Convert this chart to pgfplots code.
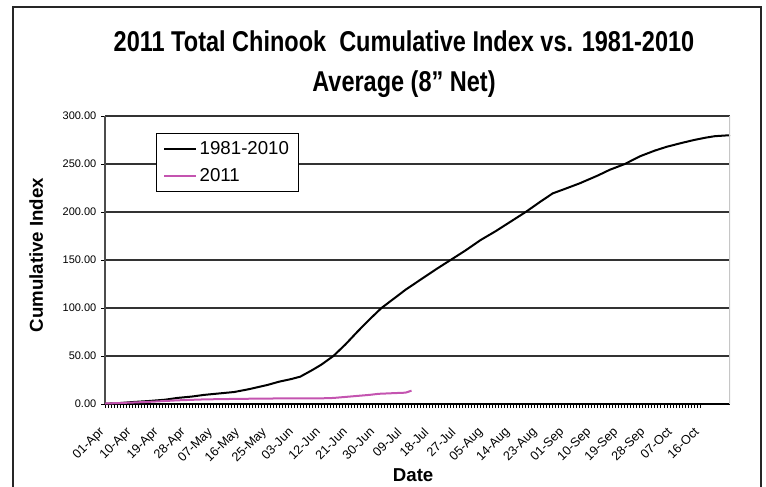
\documentclass[border=0pt]{standalone}
\usepackage{fontspec}
\setmainfont{Liberation Sans}
\usepackage{graphicx}
\usepackage{pgfplots}
\pgfplotsset{compat=1.18}
\definecolor{pinkline}{RGB}{196,84,176}
\pgfplotstableread{
day value
0 0.3
5 1.0
9 2.0
15 3.2
20 4.5
24 6.3
29 7.8
33 9.5
38 11.0
43 12.5
48 15.5
54 19.8
58 23.3
62 26.0
65 28.5
69 35.4
72 41.0
76 50.0
80 62.0
84 75.3
88 88.0
92 100.0
97 111.8
100 119.0
104 127.4
110 140.0
115 150.0
120 160.0
125 170.8
130 180.0
135 190.0
140 200.0
145 211.0
149 219.4
153 224.0
158 229.9
164 238.0
168 244.0
173 250.0
178 258.0
183 264.0
187 268.0
192 272.0
196 275.0
200 277.5
203 279.0
208 280.0
}\avgdata
\pgfplotstableread{
day value
0 0.5
9 1.5
15 2.3
24 3.8
33 4.8
43 5.3
54 5.7
65 5.9
72 5.9
76 6.3
82 7.9
88 9.5
91 10.6
96 11.3
100 11.8
101 12.8
102 13.9
}\curdata
\begin{document}
\begin{tikzpicture}
\useasboundingbox (0pt,0pt) rectangle (574.5pt,364.5pt);
\draw[line width=2pt, black!85] (9.75pt,-2pt) -- (9.75pt,359.25pt) -- (570.75pt,359.25pt) -- (570.75pt,-2pt);
\node[anchor=base, font=\bfseries\fontsize{21.5}{24}\selectfont] at (303pt,325.5pt) {\scalebox{0.82}[1]{2011 Total Chinook\ \ Cumulative Index vs. 1981-2010}};
\node[anchor=base, font=\bfseries\fontsize{21.5}{24}\selectfont] at (303pt,295.5pt) {\scalebox{0.82}[1]{Average (8" Net)}};
\begin{axis}[
  at={(78.75pt,61.5pt)}, anchor=south west,
  scale only axis, width=468.75pt, height=216pt,
  xmin=0, xmax=208, ymin=0, ymax=300,
  axis x line*=bottom, axis y line*=left,
  x axis line style={black, line width=0.9pt, -},
  y axis line style={black!70, line width=0.9pt, -},
  xtick={0,9,...,198},
  xticklabels={01-Apr,10-Apr,19-Apr,28-Apr,07-May,16-May,25-May,03-Jun,12-Jun,21-Jun,30-Jun,09-Jul,18-Jul,27-Jul,05-Aug,14-Aug,23-Aug,01-Sep,10-Sep,19-Sep,28-Sep,07-Oct,16-Oct},
  minor x tick num=8,
  ytick={0,50,...,300},
  yticklabel style={/pgf/number format/fixed, /pgf/number format/fixed zerofill, /pgf/number format/precision=2, /pgf/number format/assume math mode=true},
  tick align=outside, major tick length=3pt, minor tick length=3pt,
  tick style={black, line width=0.6pt},
  ymajorgrids, major grid style={black!80, line width=0.8pt},
  x tick label style={xshift=-5pt, yshift=-12.25pt, rotate=45, anchor=north east, font=\fontsize{9.5}{10}\selectfont, inner sep=1pt},
  y tick label style={font=\fontsize{8.25}{9}\selectfont},
  xlabel={Date}, ylabel={Cumulative Index},
  every axis x label/.style={at={(axis description cs:0.493,-0.2465)}, anchor=center, font=\bfseries\fontsize{14}{16}\selectfont},
  every axis y label/.style={at={(axis description cs:-0.110,0.517)}, rotate=90, anchor=center, font=\bfseries\fontsize{14}{16}\selectfont},
  legend style={at={(axis description cs:0.0816,0.941)}, anchor=north west, draw=black, line width=0.6pt, fill=white, font=\fontsize{14}{16}\selectfont, row sep=5pt, inner xsep=5pt, inner ysep=4pt},
  legend cell align=left,
  legend image code/.code={\draw[#1] (0pt,0pt) -- (24pt,0pt);},
]
\addplot[black, line width=1.5pt] table[x=day, y=value] {\avgdata};
\addlegendentry{1981-2010}
\addplot[pinkline, line width=1.5pt] table[x=day, y=value] {\curdata};
\addlegendentry{2011}
\draw[gray!45, line width=0.9pt] (rel axis cs:1,0) -- (rel axis cs:1,1);
\end{axis}
\end{tikzpicture}
\end{document}
